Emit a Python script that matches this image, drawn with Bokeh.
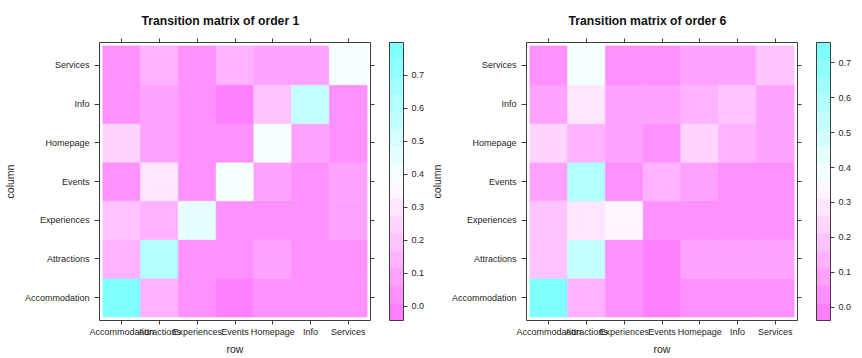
from bokeh.plotting import figure
from bokeh.models import (FactorRange, LinearColorMapper, ColorBar, FixedTicker,
                          PrintfTickFormatter, CategoricalAxis, ColumnDataSource,
                          CustomJSTickFormatter)
from bokeh.layouts import row
from bokeh.transform import transform
from bokeh.embed import file_html
from bokeh.resources import INLINE

categories = ["Accommodation", "Attractions", "Experiences", "Events",
              "Homepage", "Info", "Services"]

# values[j][i]: x = "row" category i, y = "column" category j (bottom to top)
order1_values = [
    [0.77, 0.13, 0.04, 0.00, 0.04, 0.04, 0.04],  # Accommodation
    [0.13, 0.62, 0.03, 0.03, 0.08, 0.03, 0.03],  # Attractions
    [0.20, 0.13, 0.46, 0.03, 0.03, 0.03, 0.07],  # Experiences
    [0.06, 0.30, 0.03, 0.41, 0.07, 0.03, 0.07],  # Events
    [0.26, 0.10, 0.03, 0.03, 0.41, 0.08, 0.03],  # Homepage
    [0.03, 0.10, 0.03, 0.00, 0.18, 0.54, 0.03],  # Info
    [0.03, 0.16, 0.03, 0.13, 0.08, 0.08, 0.41],  # Services
]
order6_values = [
    [0.73, 0.13, 0.04, 0.00, 0.04, 0.04, 0.04],  # Accommodation
    [0.18, 0.53, 0.04, 0.00, 0.08, 0.08, 0.08],  # Attractions
    [0.18, 0.29, 0.34, 0.04, 0.04, 0.04, 0.04],  # Experiences
    [0.09, 0.60, 0.04, 0.13, 0.08, 0.03, 0.03],  # Events
    [0.24, 0.15, 0.07, 0.04, 0.24, 0.13, 0.07],  # Homepage
    [0.09, 0.29, 0.07, 0.07, 0.13, 0.18, 0.07],  # Info
    [0.04, 0.39, 0.06, 0.03, 0.09, 0.09, 0.18],  # Services
]
order1_limits = (-0.043, 0.800)
order6_limits = (-0.038, 0.758)
cbar_ticks = [0.0, 0.1, 0.2, 0.3, 0.4, 0.5, 0.6, 0.7]
titles = ["Transition matrix of order 1", "Transition matrix of order 6"]

FONT = "Liberation Sans"
TXT = "#1e1e1e"
LINE = "#3c3c3c"


def band_color(i, n=16):
    t = i / (n - 1)
    if t < 0.5:
        s = 0.5 - t
        r, g, b = 1.0, 1.0 - s, 1.0
    else:
        s = t - 0.5
        r, g, b = 1.0 - s, 1.0, 1.0
    return "#%02x%02x%02x" % (round(r * 255), round(g * 255), round(b * 255))


palette = [band_color(i) for i in range(16)]


def style_axis(ax):
    ax.axis_line_color = None
    ax.major_tick_line_color = LINE
    ax.major_tick_in = 0
    ax.major_tick_out = 4
    ax.minor_tick_line_color = None
    ax.major_label_text_font = FONT
    ax.major_label_text_font_size = "9px"
    ax.major_label_text_color = TXT
    ax.axis_label_text_font = FONT
    ax.axis_label_text_font_size = "10.5px"
    ax.axis_label_text_font_style = "normal"
    ax.axis_label_text_color = TXT


def make_panel(values, title, limits, total_width):
    xs, ys, vs = [], [], []
    for j, ycat in enumerate(categories):
        for i, xcat in enumerate(categories):
            xs.append(xcat)
            ys.append(ycat)
            vs.append(values[j][i])
    src = ColumnDataSource(dict(x=xs, y=ys, v=vs))
    mapper = LinearColorMapper(palette=palette, low=limits[0], high=limits[1])

    p = figure(
        x_range=FactorRange(factors=categories, range_padding=0.09,
                            range_padding_units="absolute"),
        y_range=FactorRange(factors=categories, range_padding=0.09,
                            range_padding_units="absolute"),
        width=total_width, frame_height=278,
        min_border_left=10, min_border_right=0,
        min_border_top=10, min_border_bottom=10,
        output_backend="svg", toolbar_location=None,
        background_fill_color="white", border_fill_color="white",
    )
    p.rect(x="x", y="y", width=1, height=1, source=src,
           fill_color=transform("v", mapper), line_color=transform("v", mapper),
           line_width=0.6)

    p.grid.visible = False
    p.outline_line_color = LINE
    p.outline_line_width = 1

    p.xaxis.axis_label = "row"
    p.yaxis.axis_label = "column"
    for ax in p.xaxis + p.yaxis:
        style_axis(ax)
    p.xaxis.major_label_standoff = 2
    p.xaxis.axis_label_standoff = 3
    p.yaxis.major_tick_out = 5
    p.yaxis.major_label_standoff = 5
    p.yaxis.axis_label_standoff = 6

    blank = CustomJSTickFormatter(code="return '';")
    top = CategoricalAxis(formatter=blank)
    style_axis(top)
    top.major_label_standoff = 0
    p.add_layout(top, "above")
    right = CategoricalAxis(formatter=blank)
    style_axis(right)
    right.major_label_standoff = 0
    p.add_layout(right, "right")

    cb = ColorBar(
        color_mapper=mapper,
        ticker=FixedTicker(ticks=cbar_ticks),
        formatter=PrintfTickFormatter(format="%.1f"),
        width=14, height=278, padding=0, margin=0,
        location=(15, 0),
        label_standoff=4,
        major_tick_in=0, major_tick_out=4,
        major_tick_line_color=LINE,
        minor_tick_line_color=None,
        bar_line_color=LINE, bar_line_width=1,
        major_label_text_font=FONT,
        major_label_text_font_size="9px",
        major_label_text_color=TXT,
        border_line_color=None,
        background_fill_alpha=0,
    )
    p.add_layout(cb, "right")

    p.title.text = title
    p.title.align = "left"
    p.title.offset = 42
    p.title.text_font = FONT
    p.title.text_font_size = "12.2px"
    p.title.text_font_style = "bold"
    p.title.text_color = "#111111"
    p.title.standoff = 22
    return p


p1 = make_panel(order1_values, titles[0], order1_limits, 427)
p2 = make_panel(order6_values, titles[1], order6_limits, 427)
layout = row(p1, p2)

open("out.html", "w").write(file_html(layout, INLINE))
